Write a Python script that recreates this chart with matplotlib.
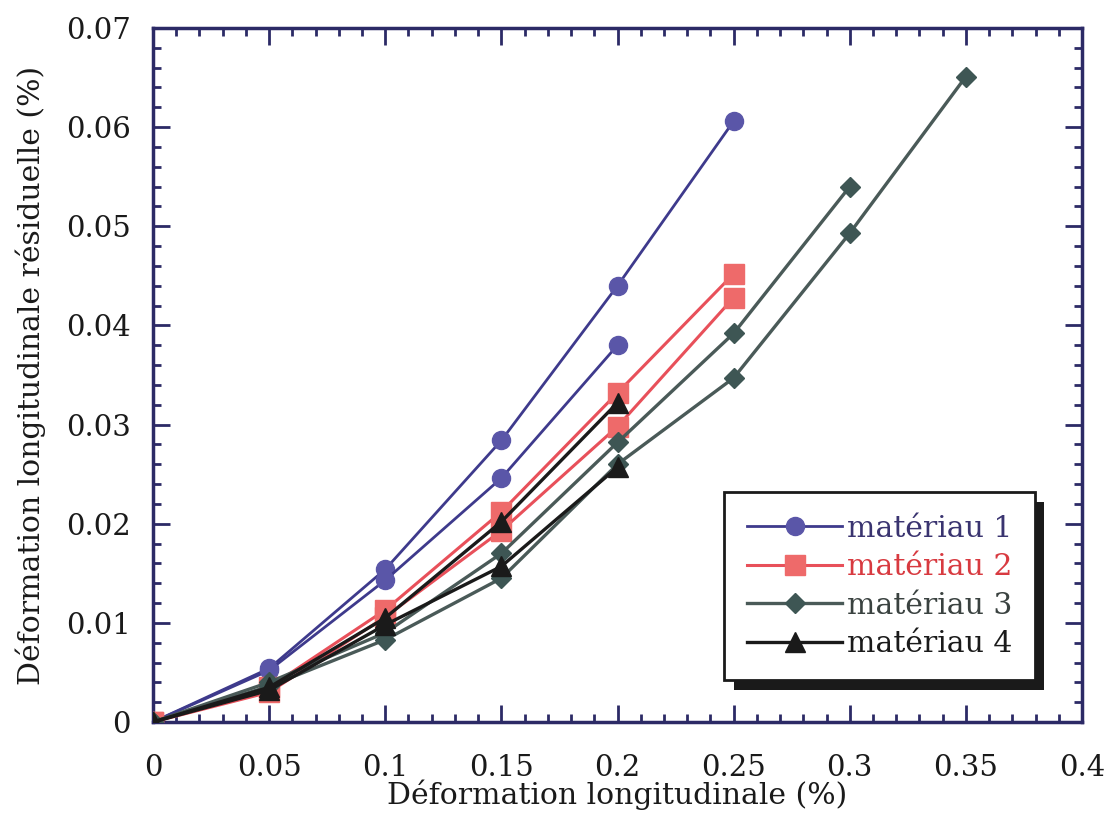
import matplotlib
matplotlib.use("Agg")
import matplotlib.pyplot as plt
import matplotlib.patheffects as pe
from matplotlib.ticker import FixedLocator, MultipleLocator

plt.rcParams['font.family'] = ['DejaVu Serif']

# ---- data ----
x_m1a = [0, 0.05, 0.10, 0.15, 0.20, 0.25]
y_m1a = [0, 0.0054, 0.0154, 0.0284, 0.0440, 0.0606]
x_m1b = [0, 0.05, 0.10, 0.15, 0.20]
y_m1b = [0, 0.0052, 0.0143, 0.0246, 0.0380]

x_m2a = [0, 0.05, 0.10, 0.15, 0.20, 0.25]
y_m2a = [0, 0.0035, 0.0113, 0.0212, 0.0332, 0.0452]
x_m2b = [0, 0.05, 0.10, 0.15, 0.20, 0.25]
y_m2b = [0, 0.0030, 0.0106, 0.0193, 0.0298, 0.0428]

x_m3a = [0, 0.05, 0.10, 0.15, 0.20, 0.25, 0.30]
y_m3a = [0, 0.0040, 0.0090, 0.0170, 0.0282, 0.0392, 0.0540]
x_m3b = [0, 0.05, 0.10, 0.15, 0.20, 0.25, 0.30, 0.35]
y_m3b = [0, 0.0036, 0.0083, 0.0145, 0.0260, 0.0347, 0.0493, 0.0651]

x_m4a = [0, 0.05, 0.10, 0.15, 0.20]
y_m4a = [0, 0.0035, 0.0105, 0.0202, 0.0322]
x_m4b = [0, 0.05, 0.10, 0.15, 0.20]
y_m4b = [0, 0.0032, 0.0098, 0.0157, 0.0257]

labels = ['matériau 1', 'matériau 2', 'matériau 3', 'matériau 4']
xticks = [0, 0.05, 0.1, 0.15, 0.2, 0.25, 0.3, 0.35, 0.4]
xticklabels = ['0', '0.05', '0.1', '0.15', '0.2', '0.25', '0.3', '0.35', '0.4']
yticks = [0, 0.01, 0.02, 0.03, 0.04, 0.05, 0.06, 0.07]
yticklabels = ['0', '0.01', '0.02', '0.03', '0.04', '0.05', '0.06', '0.07']

# ---- styles ----
c1_line, c1_mark = '#3e3a8c', '#5a56a8'
c2_line, c2_mark = '#e8505a', '#ee6a6a'
c3_line, c3_mark = '#4a5a58', '#3e5654'
c4_line, c4_mark = '#1a1a1a', '#1a1a1a'
text_colors = ['#3a3470', '#d83a40', '#3a4240', '#1a1a1a']
axis_col = '#2c2a66'

fig = plt.figure(figsize=(11.05, 8.22), dpi=100)
ax = fig.add_axes([153/1105, 1 - 722/822, (1082-153)/1105, (722-28)/822])

def plot_pair(xa, ya, xb, yb, lc, mc, marker, ms, label, ls='-', lw=2.0):
    ax.plot(xa, ya, color=lc, lw=lw, ls=ls, marker=marker, ms=ms,
            mfc=mc, mec=mc, label=label, zorder=3)
    ax.plot(xb, yb, color=lc, lw=lw, ls=ls, marker=marker, ms=ms,
            mfc=mc, mec=mc, zorder=3)

plot_pair(x_m1a, y_m1a, x_m1b, y_m1b, c1_line, c1_mark, 'o', 13, labels[0], lw=2.0)
plot_pair(x_m2a, y_m2a, x_m2b, y_m2b, c2_line, c2_mark, 's', 14, labels[1], lw=2.2)
plot_pair(x_m3a, y_m3a, x_m3b, y_m3b, c3_line, c3_mark, 'D', 10, labels[2], lw=2.4)
plot_pair(x_m4a, y_m4a, x_m4b, y_m4b, c4_line, c4_mark, '^', 14, labels[3], lw=2.4)

ax.set_xlim(0, 0.4)
ax.set_ylim(0, 0.07)
ax.xaxis.set_major_locator(FixedLocator(xticks))
ax.yaxis.set_major_locator(FixedLocator(yticks))
ax.set_xticklabels(xticklabels)
ax.set_yticklabels(yticklabels)
ax.xaxis.set_minor_locator(MultipleLocator(0.01))
ax.yaxis.set_minor_locator(MultipleLocator(0.002))
ax.tick_params(which='both', direction='in', top=True, right=True,
               color=axis_col, width=2, labelsize=21, labelcolor='#1a1a1a')
ax.tick_params(which='major', length=12)
ax.tick_params(which='minor', length=6)
ax.tick_params(axis='x', which='major', pad=23)
ax.tick_params(axis='y', which='major', pad=16)
for s in ax.spines.values():
    s.set_color(axis_col)
    s.set_linewidth(2.5)

ax.set_xlabel('Déformation longitudinale (%)', fontsize=21.5, color='#1a1a1a', labelpad=-2)
ax.set_ylabel('Déformation longitudinale résiduelle (%)', fontsize=21.5, color='#1a1a1a', labelpad=14)

leg = ax.legend(loc='lower right', bbox_to_anchor=(0.949, 0.06), borderaxespad=0,
                fontsize=21.5, handlelength=3.2, handletextpad=0.15, labelspacing=0.35,
                frameon=True, fancybox=False, borderpad=0.75)
frame = leg.get_frame()
frame.set_edgecolor('#1a1a1a')
frame.set_linewidth(2.0)
frame.set_facecolor('white')
frame.set_alpha(1)
frame.set_path_effects([pe.SimplePatchShadow(offset=(7, -7), shadow_rgbFace='#1a1a1a', alpha=1), pe.Normal()])
for t, c in zip(leg.get_texts(), text_colors):
    t.set_color(c)

fig.savefig('out.png', dpi=100)
